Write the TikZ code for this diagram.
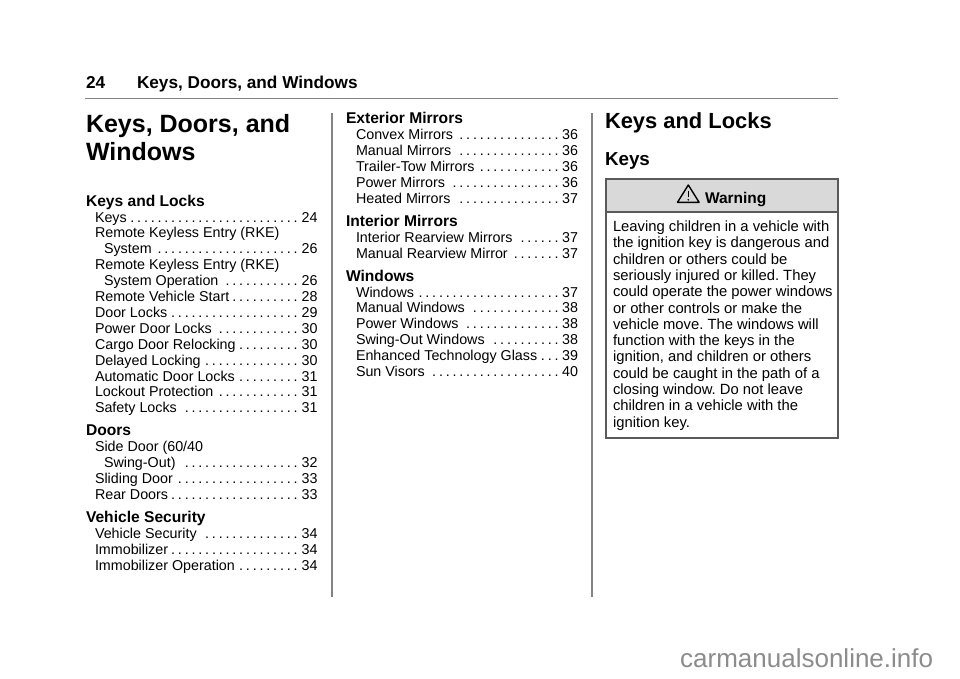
\documentclass[tikz,border=0pt]{standalone}
\usepackage{fontspec}
\setmainfont{Liberation Sans}
\definecolor{rulegray}{HTML}{838383}
\definecolor{boxedge}{HTML}{5A5A5A}
\definecolor{boxgray}{HTML}{D9D9D9}
\definecolor{wmgray}{HTML}{8C8C8C}
\frenchspacing
\newcommand\dotlead{\leaders\hbox to 6.8pt{\hss.\hss}\hfill}
% #1 name, #2 x, #3 y, #4 width, #5 indent, #6 text, #7 page
\newcommand\tocline[7]{\node[txt] (#1) at (#2,#3) {\hbox to #4pt{\kern#5pt #6\kern1.5pt\dotlead\kern1pt #7}};}
\tikzset{
  txt/.style={anchor=base west, inner sep=0pt, outer sep=0pt, font=\fontsize{14.3}{16}\selectfont},
  sechead/.style={anchor=base west, inner sep=0pt, outer sep=0pt, font=\fontsize{15.6}{18}\selectfont\bfseries},
  pagehead/.style={anchor=base west, inner sep=0pt, outer sep=0pt, font=\fontsize{17.2}{20}\selectfont\bfseries},
  bigtitle/.style={anchor=base west, inner sep=0pt, outer sep=0pt, font=\fontsize{25}{29}\selectfont\bfseries},
  chaptitle/.style={anchor=base west, inner sep=0pt, outer sep=0pt, font=\fontsize{21.9}{26}\selectfont\bfseries},
  subtitle/.style={anchor=base west, inner sep=0pt, outer sep=0pt, font=\fontsize{18.8}{22}\selectfont\bfseries},
  warntxt/.style={anchor=base west, inner sep=0pt, outer sep=0pt, font=\fontsize{14.8}{16.3}\selectfont},
  warnhead/.style={anchor=base west, inner sep=0pt, outer sep=0pt, font=\fontsize{15.5}{18}\selectfont\bfseries},
  rulestyle/.style={draw=rulegray, line width=1.6pt},
  boxline/.style={draw=boxedge, line width=1.3pt},
}
\begin{document}
\begin{tikzpicture}[x=1pt,y=-1pt]
\useasboundingbox[fill=white] (0,0) rectangle (960,678);
% page header
\node[pagehead] (pnum) at (86,88) {24};
\node[pagehead] (phead) at (137,88) {Keys, Doors, and Windows};
\coordinate (hrA) at (85,98.5);
\coordinate (hrB) at (838,98.5);
\draw[rulestyle] (hrA) -- (hrB);
% column rules
\coordinate (v1a) at (332,113);
\coordinate (v1b) at (332,596.5);
\coordinate (v2a) at (592,113);
\coordinate (v2b) at (592,596.5);
\draw[rulestyle] (v1a) -- (v1b);
\draw[rulestyle] (v2a) -- (v2b);
% column 1
\node[bigtitle] (t1) at (86,132) {Keys, Doors, and};
\node[bigtitle] (t2) at (86,160.5) {Windows};
\node[sechead] (h11) at (86,206) {Keys and Locks};
\tocline{a0}{95}{222}{222.5}{0}{Keys}{24}
\node[txt] (a1) at (95,237.9) {Remote Keyless Entry (RKE)};
\tocline{a2}{95}{253.8}{222.5}{9}{System}{26}
\node[txt] (a3) at (95,269.7) {Remote Keyless Entry (RKE)};
\tocline{a4}{95}{285.6}{222.5}{9}{System Operation}{26}
\tocline{a5}{95}{301.5}{222.5}{0}{Remote Vehicle Start}{28}
\tocline{a6}{95}{317.4}{222.5}{0}{Door Locks}{29}
\tocline{a7}{95}{333.3}{222.5}{0}{Power Door Locks}{30}
\tocline{a8}{95}{349.2}{222.5}{0}{Cargo Door Relocking}{30}
\tocline{a9}{95}{365.1}{222.5}{0}{Delayed Locking}{30}
\tocline{a10}{95}{381}{222.5}{0}{Automatic Door Locks}{31}
\tocline{a11}{95}{396.9}{222.5}{0}{Lockout Protection}{31}
\tocline{a12}{95}{412.8}{222.5}{0}{Safety Locks}{31}
\node[sechead] (h12) at (86,435.8) {Doors};
\node[txt] (b0) at (95,451.8) {Side Door (60/40};
\tocline{b1}{95}{467.7}{222.5}{9}{Swing-Out)}{32}
\tocline{b2}{95}{483.6}{222.5}{0}{Sliding Door}{33}
\tocline{b3}{95}{499.5}{222.5}{0}{Rear Doors}{33}
\node[sechead] (h13) at (86,522.5) {Vehicle Security};
\tocline{c0}{95}{538.5}{222.5}{0}{Vehicle Security}{34}
\tocline{c1}{95}{554.4}{222.5}{0}{Immobilizer}{34}
\tocline{c2}{95}{570.3}{222.5}{0}{Immobilizer Operation}{34}
% column 2
\node[sechead] (h21) at (346,123.5) {Exterior Mirrors};
\tocline{d0}{356}{139.5}{222}{0}{Convex Mirrors}{36}
\tocline{d1}{356}{155.4}{222}{0}{Manual Mirrors}{36}
\tocline{d2}{356}{171.3}{222}{0}{Trailer-Tow Mirrors}{36}
\tocline{d3}{356}{187.2}{222}{0}{Power Mirrors}{36}
\tocline{d4}{356}{203.1}{222}{0}{Heated Mirrors}{37}
\node[sechead] (h22) at (346,226.1) {Interior Mirrors};
\tocline{e0}{356}{242.1}{222}{0}{Interior Rearview Mirrors}{37}
\tocline{e1}{356}{258}{222}{0}{Manual Rearview Mirror}{37}
\node[sechead] (h23) at (346,281) {Windows};
\tocline{f0}{356}{297}{222}{0}{Windows}{37}
\tocline{f1}{356}{312.9}{222}{0}{Manual Windows}{38}
\tocline{f2}{356}{328.8}{222}{0}{Power Windows}{38}
\tocline{f3}{356}{344.7}{222}{0}{Swing-Out Windows}{38}
\tocline{f4}{356}{360.6}{222}{0}{Enhanced Technology Glass}{39}
\tocline{f5}{356}{376.5}{222}{0}{Sun Visors}{40}
% column 3
\node[chaptitle] (k1) at (605,128.3) {Keys and Locks};
\node[subtitle] (k2) at (605,165) {Keys};
% warning box
\fill[white] (606,179) rectangle (838,438);
\fill[boxgray] (606,179) rectangle (838,212);
\draw[boxline] (606,212) -- (838,212);
\draw[boxline] (606,179) rectangle (838,438);
\node[warnhead] (wh) at (705,203) {Warning};
\draw[line width=1.4pt, line join=round] (677.5,202.3) -- (688.3,185) -- (699.1,202.3) -- cycle;
\draw[line width=1.3pt] (688.3,190.5) -- (688.3,197);
\fill (688.3,199.8) circle (0.9pt);
\node[warntxt] (w1) at (613,231.5) {Leaving children in a vehicle with};
\node[warntxt] (w2) at (613,247.8) {the ignition key is dangerous and};
\node[warntxt] (w3) at (613,264.1) {children or others could be};
\node[warntxt] (w4) at (613,280.4) {seriously injured or killed. They};
\node[warntxt] (w5) at (613,296.7) {could operate the power windows};
\node[warntxt] (w6) at (613,313) {or other controls or make the};
\node[warntxt] (w7) at (613,329.3) {vehicle move. The windows will};
\node[warntxt] (w8) at (613,345.6) {function with the keys in the};
\node[warntxt] (w9) at (613,361.9) {ignition, and children or others};
\node[warntxt] (w10) at (613,378.2) {could be caught in the path of a};
\node[warntxt] (w11) at (613,394.5) {closing window. Do not leave};
\node[warntxt] (w12) at (613,410.8) {children in a vehicle with the};
\node[warntxt] (w13) at (613,427.1) {ignition key.};
% watermark
\node[anchor=base west, inner sep=0pt, text=wmgray, font=\fontsize{26}{30}\selectfont] (wm) at (680,667.5) {carmanualsonline.info};
\end{tikzpicture}
\end{document}
